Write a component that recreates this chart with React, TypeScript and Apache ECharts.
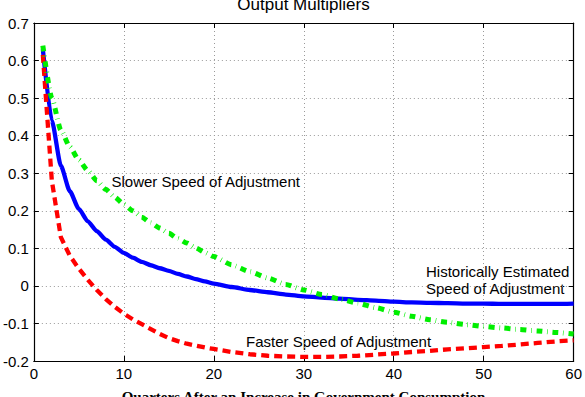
import React, { useEffect, useRef } from "react";
import * as echarts from "echarts";

// Quarters after the fiscal shock at which the responses are sampled
const quarters = [
  1, 2, 3, 4, 5, 6, 7, 8, 9, 10, 11, 12, 13, 14, 15, 16, 17, 18, 19, 20,
  22, 24, 26, 28, 30, 32, 34, 36, 38, 40, 42, 44, 46, 48, 50, 52, 54, 56, 58, 60,
];

// Output multiplier, historically estimated speed of adjustment
const historical = [
  0.63, 0.44, 0.32, 0.252, 0.205, 0.172, 0.146, 0.123, 0.104, 0.088, 0.075, 0.064, 0.055, 0.047,
  0.04, 0.032, 0.025, 0.018, 0.012, 0.006,
  -0.003, -0.011, -0.017, -0.023, -0.028, -0.031, -0.034, -0.037, -0.039, -0.042, -0.044, -0.045,
  -0.046, -0.047, -0.047, -0.048, -0.048, -0.048, -0.048, -0.047,
];

// Output multiplier, faster speed of adjustment
const faster = [
  0.615, 0.28, 0.13, 0.08, 0.046, 0.016, -0.011, -0.035, -0.056, -0.074, -0.089, -0.102, -0.115,
  -0.128, -0.139, -0.147, -0.154, -0.159, -0.164, -0.168,
  -0.176, -0.182, -0.186, -0.188, -0.189, -0.189, -0.188, -0.186, -0.183, -0.18, -0.176, -0.173,
  -0.169, -0.166, -0.163, -0.16, -0.156, -0.152, -0.148, -0.145,
];

// Output multiplier, slower speed of adjustment
const slower = [
  0.64, 0.5, 0.415, 0.37, 0.335, 0.307, 0.28, 0.257, 0.236, 0.217, 0.2, 0.183, 0.168, 0.154,
  0.14, 0.126, 0.114, 0.101, 0.089, 0.078,
  0.056, 0.038, 0.021, 0.004, -0.011, -0.023, -0.035, -0.046, -0.058, -0.07, -0.081, -0.09, -0.097,
  -0.103, -0.108, -0.112, -0.116, -0.12, -0.124, -0.128,
];

const xRange = { min: 0, max: 60, interval: 10 };
const yRange = { min: -0.2, max: 0.7, interval: 0.1 };

const titleText = "Output Multipliers";
const xAxisTitle = "Quarters After an Increase in Government Consumption";
const slowerLabel = "Slower Speed of Adjustment";
const historicalLabel = ["Historically Estimated", "Speed of Adjustment"];
const fasterLabel = "Faster Speed of Adjustment";

const SANS = "'Liberation Sans', Arial, Helvetica, sans-serif";
const SERIF = "'Liberation Serif', 'Times New Roman', serif";

export default function App() {
  const ref = useRef<HTMLDivElement>(null);

  useEffect(() => {
    document.body.style.margin = "0";
    const chart = echarts.init(ref.current!, null, { renderer: "svg" });

    const pairs = (ys: number[]) => quarters.map((q, i) => [q, ys[i]]);

    const frameLine = { show: true, onZero: false, lineStyle: { color: "#000", width: 1.2 } };
    const innerTick = { show: true, inside: true, length: 5, lineStyle: { color: "#000", width: 1 } };
    const dottedGrid = {
      show: true,
      lineStyle: { color: "#9a9a9a", width: 1, type: [1, 3] as number[] },
    };
    const tickLabel = {
      color: "#000",
      fontFamily: SANS,
      fontSize: 15,
    };
    const fmt = (v: number) => {
      const r = Math.round(v * 10) / 10;
      return r === 0 ? "0" : String(r);
    };

    const textStyle = (text: string, extra: Record<string, unknown> = {}) => ({
      text,
      fill: "#000",
      font: `15px ${SANS}`,
      verticalAlign: "middle",
      align: "left",
      ...extra,
    });

    chart.setOption({
      animation: false,
      backgroundColor: "#fff",
      grid: { left: 32, right: 10, top: 23, bottom: 36, containLabel: false },
      xAxis: [
        {
          type: "value",
          position: "bottom",
          ...xRange,
          axisLine: frameLine,
          axisTick: innerTick,
          axisLabel: { ...tickLabel, margin: 5, formatter: (v: number) => String(v) },
          splitLine: dottedGrid,
        },
        {
          type: "value",
          position: "top",
          ...xRange,
          axisLine: frameLine,
          axisTick: innerTick,
          axisLabel: { show: false },
          splitLine: { show: false },
        },
      ],
      yAxis: [
        {
          type: "value",
          position: "left",
          ...yRange,
          axisLine: frameLine,
          axisTick: innerTick,
          axisLabel: { ...tickLabel, margin: 5, formatter: fmt },
          splitLine: dottedGrid,
        },
        {
          type: "value",
          position: "right",
          ...yRange,
          axisLine: frameLine,
          axisTick: innerTick,
          axisLabel: { show: false },
          splitLine: { show: false },
        },
      ],
      series: [
        {
          name: "Historically Estimated",
          type: "line",
          data: pairs(historical),
          showSymbol: false,
          smooth: 0.2,
          smoothMonotone: "x",
          lineStyle: { color: "#0000ff", width: 4.3, type: "solid" },
          z: 3,
        },
        {
          name: "Faster",
          type: "line",
          data: pairs(faster),
          showSymbol: false,
          smooth: false,
          lineStyle: { color: "#ff0000", width: 4.3, type: [8, 5], cap: "butt" },
          z: 4,
        },
        {
          name: "Slower",
          type: "line",
          data: pairs(slower),
          showSymbol: false,
          smooth: 0.2,
          smoothMonotone: "x",
          lineStyle: { color: "#00ee00", width: 5, type: [6, 4.7, 0.6, 4.7], cap: "butt" },
          z: 5,
        },
      ],
      graphic: [
        {
          type: "text",
          x: 303.5,
          y: 4,
          style: textStyle(titleText, { font: `17px ${SANS}`, align: "center" }),
        },
        {
          type: "text",
          x: 303.5,
          y: 396.5,
          style: textStyle(xAxisTitle, { font: `bold 15px ${SERIF}`, align: "center" }),
        },
        { type: "text", x: 111.5, y: 181, style: textStyle(slowerLabel) },
        { type: "text", x: 426, y: 271.3, style: textStyle(historicalLabel[0]) },
        { type: "text", x: 426, y: 288, style: textStyle(historicalLabel[1]) },
        { type: "text", x: 246, y: 341, style: textStyle(fasterLabel) },
      ],
    });

    return () => chart.dispose();
  }, []);

  return (
    <div
      ref={ref}
      style={{ position: "absolute", left: 0, top: 0, width: 585, height: 397 }}
    />
  );
}
